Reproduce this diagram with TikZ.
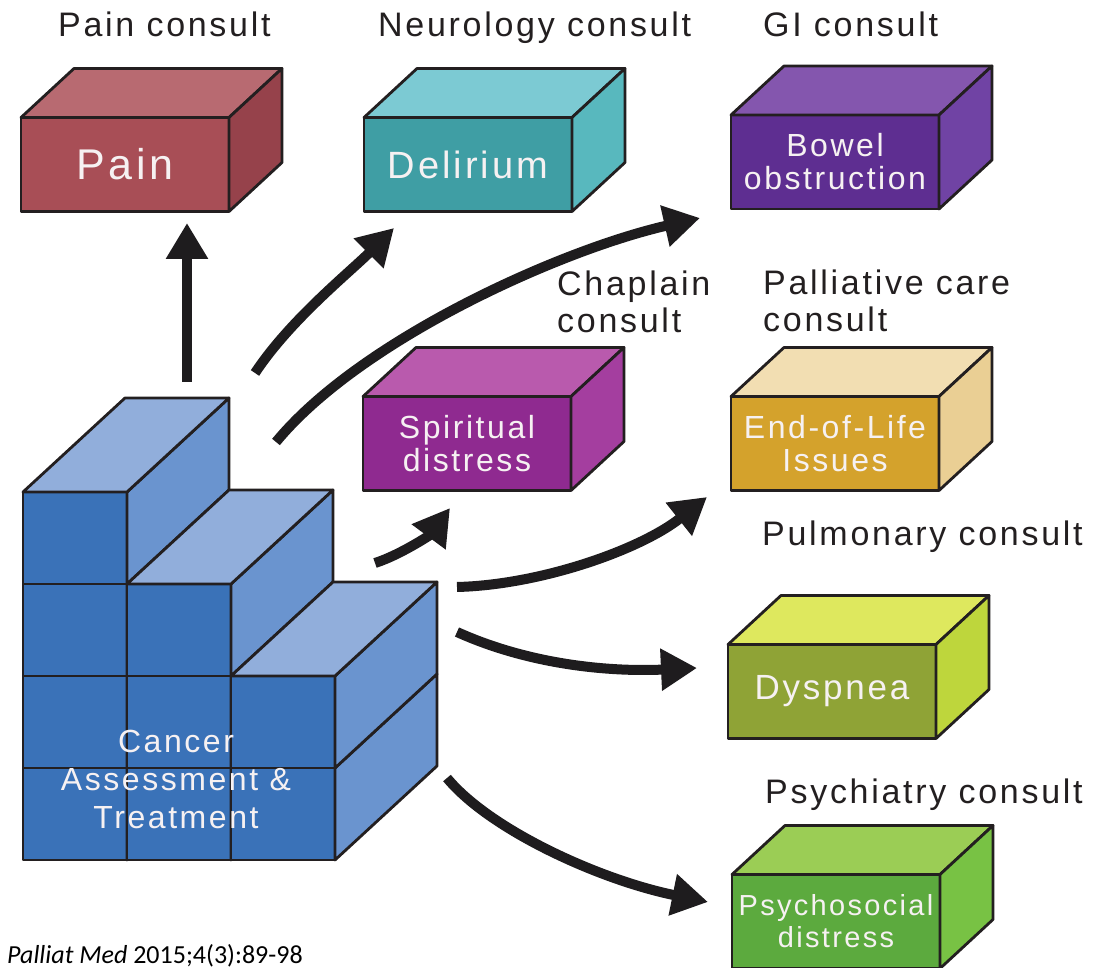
\documentclass[tikz,border=0pt]{standalone}
\usepackage{fontspec}
\setmainfont{Liberation Sans}[LetterSpace=8]
\newfontfamily\citefont{Carlito}
\usetikzlibrary{arrows.meta}

\definecolor{edgeline}{RGB}{35,31,32}
\definecolor{arrowline}{RGB}{30,28,30}
\definecolor{titletext}{RGB}{35,31,32}
\definecolor{labeltext}{RGB}{246,241,242}
\definecolor{painF}{RGB}{168,78,86}
\definecolor{painT}{RGB}{184,106,113}
\definecolor{painS}{RGB}{150,66,75}
\definecolor{deliriumF}{RGB}{63,158,164}
\definecolor{deliriumT}{RGB}{124,202,211}
\definecolor{deliriumS}{RGB}{88,184,190}
\definecolor{bowelF}{RGB}{94,46,145}
\definecolor{bowelT}{RGB}{132,86,174}
\definecolor{bowelS}{RGB}{112,67,164}
\definecolor{spiritualF}{RGB}{143,42,144}
\definecolor{spiritualT}{RGB}{185,90,173}
\definecolor{spiritualS}{RGB}{164,62,159}
\definecolor{eolF}{RGB}{212,162,44}
\definecolor{eolT}{RGB}{242,222,178}
\definecolor{eolS}{RGB}{234,207,148}
\definecolor{dyspneaF}{RGB}{143,163,54}
\definecolor{dyspneaT}{RGB}{222,232,94}
\definecolor{dyspneaS}{RGB}{190,214,60}
\definecolor{psychosocialF}{RGB}{92,170,62}
\definecolor{psychosocialT}{RGB}{155,205,85}
\definecolor{psychosocialS}{RGB}{120,194,68}
\definecolor{cancerF}{RGB}{58,114,184}
\definecolor{cancerT}{RGB}{145,174,219}
\definecolor{cancerS}{RGB}{106,148,207}

\tikzset{
  face/.style={draw=edgeline, line width=2.8pt, line join=round},
  front/.style={face, minimum width=208pt, minimum height=94pt, inner sep=0pt,
    outer sep=0pt, text=labeltext, align=center, font=\fontsize{32}{33}\selectfont},
  title/.style={text=titletext, inner sep=0pt, align=left, font=\fontsize{34}{37}\selectfont},
  flow/.style={draw=arrowline, line width=10pt, -{Triangle[width=40pt,length=36pt]}},
  cell/.style={face, fill=cancerF},
}

% front face as a node, top and side drawn from its corners
\newcommand{\consultbox}[4][]{%
  \node[front, fill=#2F, #1] (#2) at #3 {#4};
  \draw[face, fill=#2T] (#2.north west) -- ++(53,-49)
    -- ([shift={(53,-49)}]#2.north east) -- (#2.north east) -- cycle;
  \draw[face, fill=#2S] (#2.north east) -- ++(53,-49)
    -- ([shift={(53,-49)}]#2.south east) -- (#2.south east) -- cycle;
}

\begin{document}
\begin{tikzpicture}[x=1pt, y=-1pt]
  \useasboundingbox (0,0) rectangle (1112,968);

  % stacked cubes
  \foreach \c/\n in {0/4,1/3,2/2} {
    \foreach \r in {1,...,\n} {
      \draw[cell] ({23+104*\c},{860-92*(\r-1)}) rectangle ++(104,-92);
      \draw[face, fill=cancerS] ({127+104*\c},{860-92*(\r-1)}) -- ++(0,-92)
        -- ++(102,-94) -- ++(0,92) -- cycle;
    }
    \draw[face, fill=cancerT] ({23+104*\c},{860-92*\n}) -- ++(104,0)
      -- ++(102,-94) -- ++(-104,0) -- cycle;
  }
  \node[text=labeltext, align=center, font=\fontsize{32}{38}\selectfont] (cancer)
    at (176,779) {Cancer\\Assessment \&\\Treatment};

  % consult boxes
  \consultbox[font=\fontsize{43}{48}\selectfont]{pain}{(125,164.5)}{Pain}
  \consultbox[font=\fontsize{38}{42}\selectfont]{delirium}{(468,164.5)}{Delirium}
  \consultbox{bowel}{(835,162)}{Bowel\\obstruction}
  \consultbox{spiritual}{(467,443.5)}{Spiritual\\distress}
  \consultbox{eol}{(835,443.5)}{End-of-Life\\Issues}
  \consultbox[font=\fontsize{35}{38}\selectfont]{dyspnea}{(832,691.5)}{Dyspnea}
  \consultbox[font=\fontsize{29}{32}\selectfont]{psychosocial}{(836,921.5)}{Psychosocial\\distress}

  \node[title, anchor=base west] (paincons) at (58,37) {Pain consult};
  \node[title, anchor=base west] (neurocons) at (378,37) {Neurology consult};
  \node[title, anchor=base west] (gicons) at (763,37) {GI consult};
  \node[title, anchor=base west] (chapcons) at (557,333) {Chaplain\\consult};
  \node[title, anchor=base west] (palcons) at (763,332) {Palliative care\\consult};
  \node[title, anchor=base west] (pulmcons) at (762,545) {Pulmonary consult};
  \node[title, anchor=base west] (psychcons) at (765,803) {Psychiatry consult};

  \node[anchor=base west, inner sep=0pt, text=black, font=\citefont\fontsize{26}{30}\selectfont]
    (source) at (7,963) {\textit{Palliat Med} 2015;4(3):89-98};

  % arrows out of the stack
  \coordinate (painTail) at (187,382);  \coordinate (painTip) at (187,223);
  \coordinate (delTail) at (255,373);   \coordinate (delTip) at (394,228);
  \coordinate (bowTail) at (276,442);   \coordinate (bowTip) at (700,218);
  \coordinate (spirTail) at (375,563);  \coordinate (spirTip) at (450,508);
  \coordinate (eolTail) at (457,587);   \coordinate (eolTip) at (707,497);
  \coordinate (dysTail) at (457,632);   \coordinate (dysTip) at (697,668);
  \coordinate (psyTail) at (447,778);   \coordinate (psyTip) at (708,902);

  \draw[flow] (painTail) -- (painTip);
  \draw[flow] (delTail) .. controls (290,320) and (350,272) .. (delTip);
  \draw[flow] (bowTail) .. controls (360,340) and (560,250) .. (bowTip);
  \draw[flow] (spirTail) .. controls (400,555) and (430,535) .. (spirTip);
  \draw[flow] (eolTail) .. controls (540,585) and (640,550) .. (eolTip);
  \draw[flow] (dysTail) .. controls (530,665) and (610,672) .. (dysTip);
  \draw[flow] (psyTail) .. controls (490,830) and (600,880) .. (psyTip);
\end{tikzpicture}
\end{document}
